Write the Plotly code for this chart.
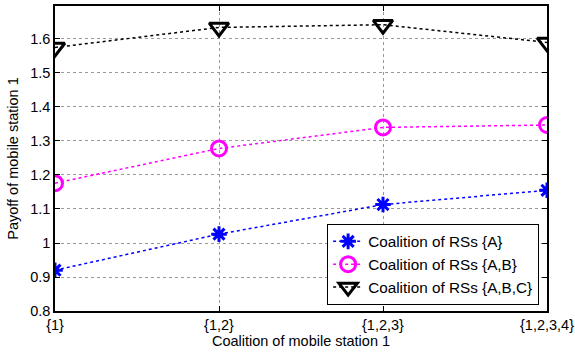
import plotly.graph_objects as go

categories = ["{1}", "{1,2}", "{1,2,3}", "{1,2,3,4}"]
rs_a = [0.92, 1.026, 1.113, 1.155]
rs_ab = [1.176, 1.278, 1.340, 1.347]
rs_abc = [1.575, 1.634, 1.642, 1.590]
y_ticks = [0.8, 0.9, 1.0, 1.1, 1.2, 1.3, 1.4, 1.5, 1.6]
y_tick_labels = ["0.8", "0.9", "1", "1.1", "1.2", "1.3", "1.4", "1.5", "1.6"]

x = list(range(len(categories)))

fig = go.Figure()
fig.add_trace(go.Scatter(
    x=x, y=rs_a, mode="lines+markers", name="Coalition of RSs {A}",
    line=dict(color="#0000ff", width=1.5, dash="dot"),
    marker=dict(symbol="asterisk-open", size=13, color="#0000ff", line=dict(color="#0000ff", width=3)),
))
fig.add_trace(go.Scatter(
    x=x, y=rs_ab, mode="lines+markers", name="Coalition of RSs {A,B}",
    line=dict(color="#ff00ff", width=1.5, dash="dot"),
    marker=dict(symbol="circle-open", size=15, color="#ff00ff", line=dict(color="#ff00ff", width=3)),
))
fig.add_trace(go.Scatter(
    x=x, y=rs_abc, mode="lines+markers", name="Coalition of RSs {A,B,C}",
    line=dict(color="#000000", width=1.5, dash="dot"),
    marker=dict(symbol="triangle-down-open", size=17, color="#000000", line=dict(color="#000000", width=3)),
))

font_family = "Liberation Sans, Arial, Helvetica, sans-serif"
fig.update_layout(
    width=575, height=353,
    margin=dict(l=55, r=28, t=6, b=42),
    paper_bgcolor="white", plot_bgcolor="white",
    font=dict(family=font_family, size=14.5, color="#000000"),
    showlegend=True,
    legend=dict(
        x=0.984, y=0.02, xanchor="right", yanchor="bottom",
        bgcolor="white", bordercolor="black", borderwidth=1,
        font=dict(size=15.3), tracegroupgap=0, itemwidth=30,
    ),
    xaxis=dict(
        range=[0, 3], tickvals=x, ticktext=categories, automargin=False,
        showline=True, linecolor="black", linewidth=1.5, mirror="ticks",
        ticks="inside", ticklen=5, tickcolor="black",
        showgrid=True, gridcolor="#999999", griddash="dot", gridwidth=1,
        zeroline=False,
        title=dict(text="Coalition of mobile station 1", font=dict(size=14.5), standoff=1),
    ),
    yaxis=dict(
        range=[0.8, 1.697], tickvals=y_ticks, ticktext=y_tick_labels, automargin=False,
        showline=True, linecolor="black", linewidth=1.5, mirror="ticks",
        ticks="inside", ticklen=5, tickcolor="black",
        showgrid=True, gridcolor="#999999", griddash="dot", gridwidth=1,
        zeroline=False,
        title=dict(text="Payoff of mobile station 1", font=dict(size=14.5), standoff=8),
    ),
)

fig.write_html("out.html", config={"displayModeBar": False},
               post_script="document.body.style.margin='0';")
